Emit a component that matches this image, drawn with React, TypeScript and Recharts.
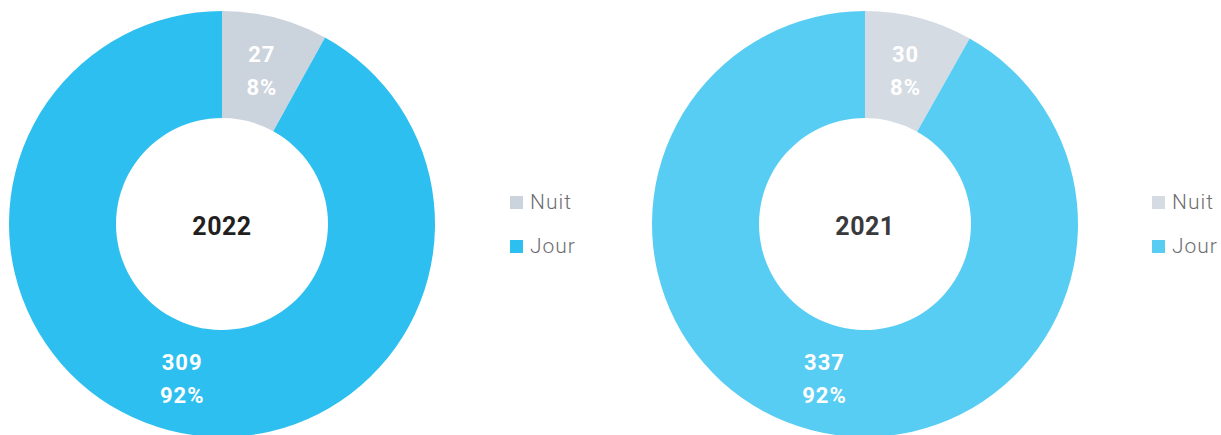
import { PieChart, Pie, Cell } from 'recharts'

const categories = ['Nuit', 'Jour']
const values2022 = [27, 309]
const values2021 = [30, 337]
const colors2022 = ['#CBD3DC', '#2DBFEF']
const colors2021 = ['#D5DBE2', '#57CDF4']
const years = ['2022', '2021']
const yearColors = ['#231F20', '#3A3A3C']

const FONT = 'Roboto, "DejaVu Sans", sans-serif'

const toRows = (vals: number[]) => categories.map((name, i) => ({ name, value: vals[i] }))

const RAD = Math.PI / 180

function sliceLabel(props: any) {
  const { cx, cy, midAngle, innerRadius, outerRadius, value, percent } = props
  const r = (innerRadius + outerRadius) / 2
  const x = cx + r * Math.cos(-midAngle * RAD)
  const y = cy + r * Math.sin(-midAngle * RAD)
  return (
    <text x={x} y={y} fill="#fff" textAnchor="middle" fontFamily={FONT} fontWeight={700} fontSize={22} letterSpacing={1}>
      <tspan x={x} dy={-8}>{value}</tspan>
      <tspan x={x} dy={33}>{`${Math.round(percent * 100)}%`}</tspan>
    </text>
  )
}

function Legend({ left, colors }: { left: number; colors: string[] }) {
  return (
    <div style={{ position: 'absolute', left, top: 0 }}>
      {categories.map((c, i) => (
        <div key={c} style={{ position: 'absolute', left: 0, top: 190 + i * 44, display: 'flex', alignItems: 'center', whiteSpace: 'nowrap' }}>
          <span style={{ width: 13, height: 13, background: colors[i], display: 'inline-block' }} />
          <span style={{ marginLeft: 7, fontFamily: FONT, fontWeight: 300, fontSize: 21, letterSpacing: 1, color: '#6D6E71', lineHeight: '24px' }}>{c}</span>
        </div>
      ))}
    </div>
  )
}

export default function App() {
  const sets = [
    { cx: 222, vals: values2022, colors: colors2022, legend: 510 },
    { cx: 865, vals: values2021, colors: colors2021, legend: 1152 },
  ]
  return (
    <div style={{ position: 'absolute', left: 0, top: 0, width: 1221, height: 435, background: '#fff' }}>
      <PieChart width={1221} height={435} margin={{ top: 0, right: 0, bottom: 0, left: 0 }}>
        {sets.map((s, k) => (
          <Pie
            key={years[k]}
            data={toRows(s.vals)}
            dataKey="value"
            nameKey="name"
            cx={s.cx}
            cy={224}
            innerRadius={106}
            outerRadius={213}
            startAngle={90}
            endAngle={-270}
            stroke="none"
            label={sliceLabel}
            labelLine={false}
            isAnimationActive={false}
          >
            {s.vals.map((_, i) => (
              <Cell key={i} fill={s.colors[i]} />
            ))}
          </Pie>
        ))}
      </PieChart>
      {sets.map((s, k) => (
        <div
          key={years[k]}
          style={{
            position: 'absolute', left: s.cx - 60, top: 224 - 12, width: 120, height: 30,
            textAlign: 'center', lineHeight: '30px', fontFamily: FONT, fontWeight: 700,
            fontSize: 25, letterSpacing: 0.5, color: yearColors[k],
          }}
        >
          {years[k]}
        </div>
      ))}
      {sets.map((s) => (
        <Legend key={s.legend} left={s.legend} colors={s.colors} />
      ))}
    </div>
  )
}
